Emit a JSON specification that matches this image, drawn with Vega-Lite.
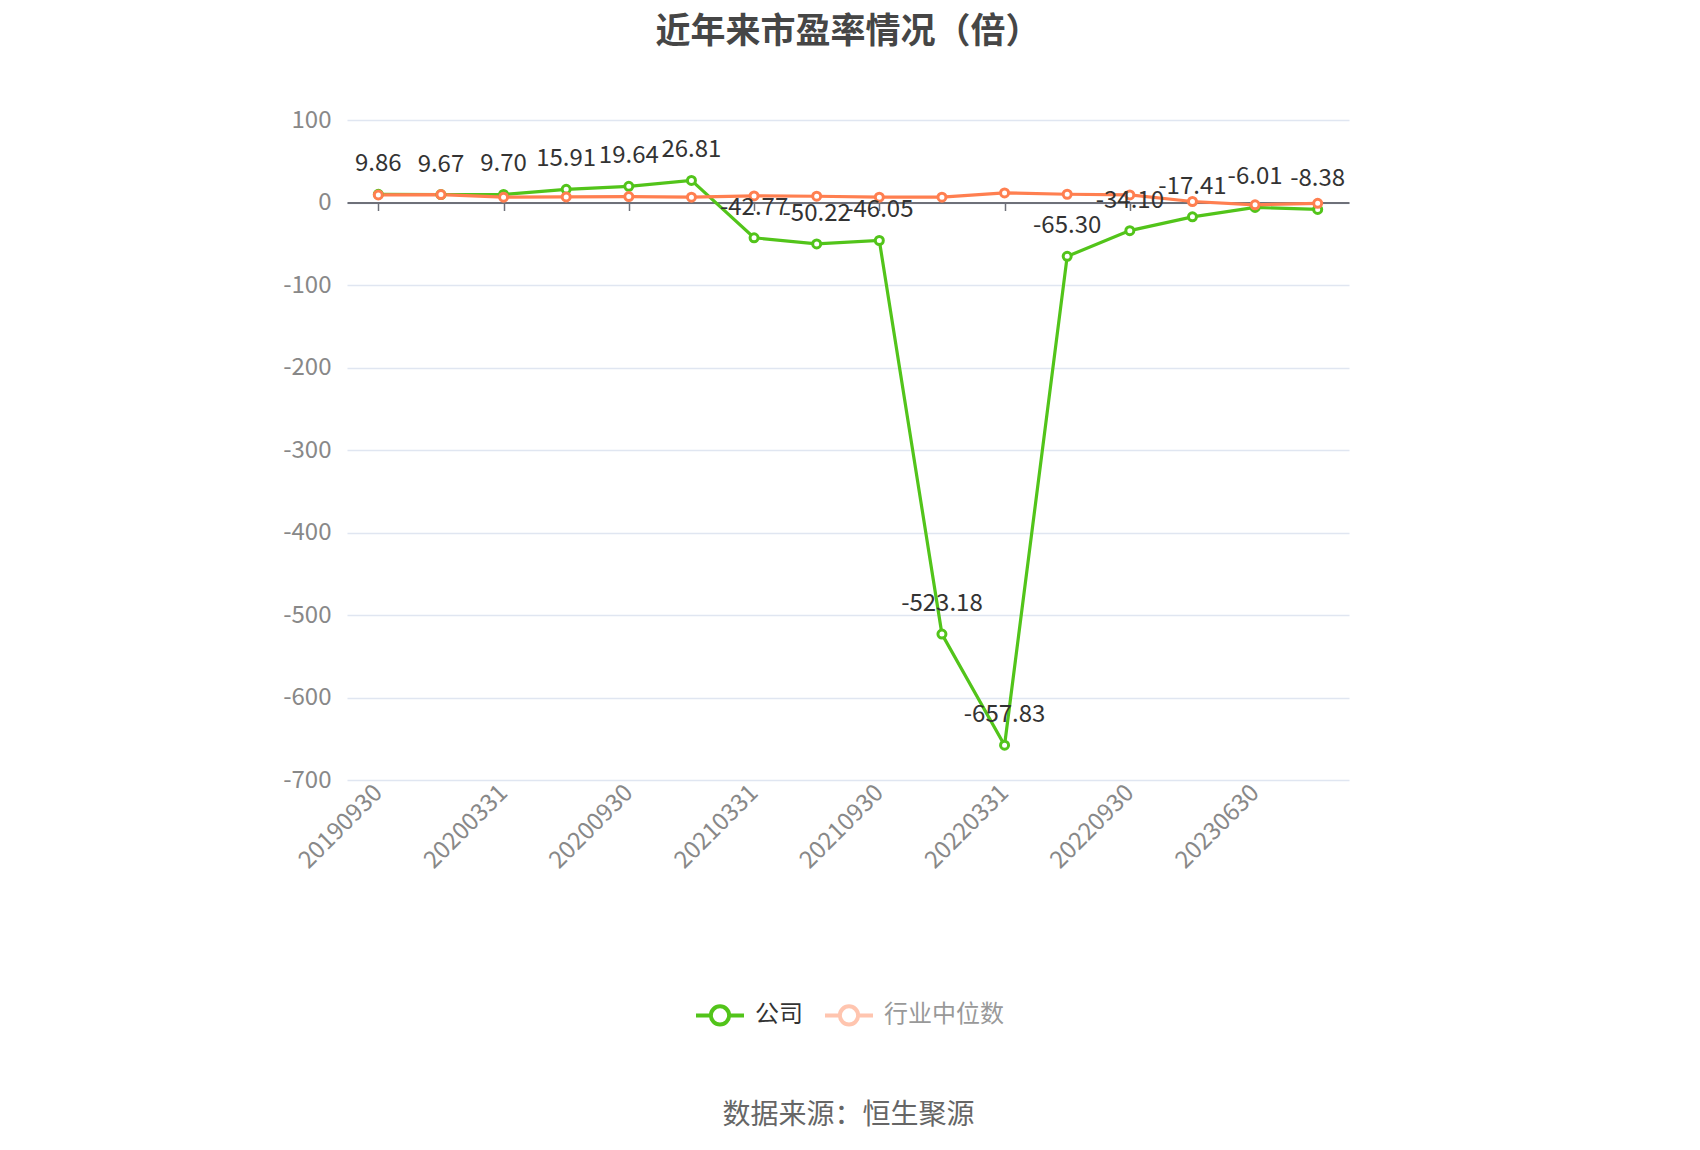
{
  "$schema": "https://vega.github.io/schema/vega-lite/v6.json",
  "width": 1002,
  "height": 660,
  "autosize": "none",
  "padding": {"left": 347, "top": 120, "right": 351, "bottom": 370},
  "background": "white",
  "config": {"font": "Noto Sans CJK SC", "view": {"stroke": null}},
  "title": {
    "text": "近年来市盈率情况（倍）",
    "fontSize": 35,
    "fontWeight": "bold",
    "color": "#464646",
    "anchor": "middle",
    "frame": "group",
    "offset": 58
  },
  "data": {
    "values": [
      {"date": "20190930", "series": "公司", "value": 9.86, "label": "9.86"},
      {"date": "20191231", "series": "公司", "value": 9.67, "label": "9.67"},
      {"date": "20200331", "series": "公司", "value": 9.70, "label": "9.70"},
      {"date": "20200630", "series": "公司", "value": 15.91, "label": "15.91"},
      {"date": "20200930", "series": "公司", "value": 19.64, "label": "19.64"},
      {"date": "20201231", "series": "公司", "value": 26.81, "label": "26.81"},
      {"date": "20210331", "series": "公司", "value": -42.77, "label": "-42.77"},
      {"date": "20210630", "series": "公司", "value": -50.22, "label": "-50.22"},
      {"date": "20210930", "series": "公司", "value": -46.05, "label": "-46.05"},
      {"date": "20211231", "series": "公司", "value": -523.18, "label": "-523.18"},
      {"date": "20220331", "series": "公司", "value": -657.83, "label": "-657.83"},
      {"date": "20220630", "series": "公司", "value": -65.30, "label": "-65.30"},
      {"date": "20220930", "series": "公司", "value": -34.10, "label": "-34.10"},
      {"date": "20221231", "series": "公司", "value": -17.41, "label": "-17.41"},
      {"date": "20230630", "series": "公司", "value": -6.01, "label": "-6.01"},
      {"date": "20230930", "series": "公司", "value": -8.38, "label": "-8.38"},
      {"date": "20190930", "series": "行业中位数", "value": 9.2, "label": ""},
      {"date": "20191231", "series": "行业中位数", "value": 9.6, "label": ""},
      {"date": "20200331", "series": "行业中位数", "value": 6.4, "label": ""},
      {"date": "20200630", "series": "行业中位数", "value": 6.8, "label": ""},
      {"date": "20200930", "series": "行业中位数", "value": 7.2, "label": ""},
      {"date": "20201231", "series": "行业中位数", "value": 6.4, "label": ""},
      {"date": "20210331", "series": "行业中位数", "value": 8.0, "label": ""},
      {"date": "20210630", "series": "行业中位数", "value": 7.6, "label": ""},
      {"date": "20210930", "series": "行业中位数", "value": 6.4, "label": ""},
      {"date": "20211231", "series": "行业中位数", "value": 6.4, "label": ""},
      {"date": "20220331", "series": "行业中位数", "value": 11.6, "label": ""},
      {"date": "20220630", "series": "行业中位数", "value": 10.0, "label": ""},
      {"date": "20220930", "series": "行业中位数", "value": 9.2, "label": ""},
      {"date": "20221231", "series": "行业中位数", "value": 1.2, "label": ""},
      {"date": "20230630", "series": "行业中位数", "value": -2.8, "label": ""},
      {"date": "20230930", "series": "行业中位数", "value": -1.0, "label": ""}
    ]
  },
  "resolve": {"scale": {"x": "shared", "y": "shared", "color": "shared"}, "axis": {"x": "independent"}},
  "layer": [
    {
      "mark": {"type": "line", "strokeWidth": 3.2},
      "encoding": {
        "x": {
          "field": "date", "type": "ordinal",
          "scale": {"type": "point", "padding": 0.5},
          "axis": {
            "orient": "bottom",
            "values": ["20190930", "20200331", "20200930", "20210331", "20210930", "20220331", "20220930", "20230630"],
            "labelAngle": -45, "labelAlign": "right", "labelBaseline": "middle",
            "labelPadding": 9, "labelOverlap": false, "labelBound": false,
            "labelColor": "#888", "labelFontSize": 24,
            "ticks": false, "domain": false, "grid": false,
            "title": "数据来源：恒生聚源",
            "titleFontSize": 28, "titleFontWeight": "normal", "titleColor": "#666",
            "titleX": 501, "titleY": 335, "titleAlign": "center", "titleBaseline": "middle"
          }
        },
        "y": {
          "field": "value", "type": "quantitative",
          "scale": {"domain": [-700, 100], "nice": false, "zero": false},
          "axis": {
            "values": [-700, -600, -500, -400, -300, -200, -100, 0, 100],
            "labelExpr": "'' + datum.value",
            "grid": true, "gridColor": "#e0e6f1", "gridWidth": 1.5,
            "domain": false, "ticks": false,
            "labelColor": "#888", "labelFontSize": 24, "labelPadding": 16,
            "title": null
          }
        },
        "color": {
          "field": "series", "type": "nominal",
          "scale": {"domain": ["公司", "行业中位数"], "range": ["#52c41a", "#ff7f50"]},
          "legend": {
            "title": null,
            "orient": "none",
            "legendX": 347,
            "legendY": 869,
            "direction": "horizontal",
            "symbolType": "M-1,0H-0.38M0.38,0H1M-0.38,0A0.38,0.38,0,1,1,0.38,0A0.38,0.38,0,1,1,-0.38,0Z",
            "symbolSize": 2304,
            "symbolStrokeWidth": 4,
            "symbolFillColor": "white",
            "labelFontSize": 24,
            "labelOffset": 9,
            "columnPadding": 14,
            "labelColor": "#333",
            "encode": {
              "symbols": {"update": {"opacity": {"signal": "datum.value === '行业中位数' ? 0.45 : 1"}}},
              "labels": {"update": {"fill": {"signal": "datum.value === '行业中位数' ? '#999' : '#333'"}}}
            }
          }
        }
      }
    },
    {
      "mark": {"type": "point", "filled": false, "fill": "white", "strokeWidth": 3, "size": 64, "opacity": 1},
      "encoding": {
        "x": {"field": "date", "type": "ordinal", "axis": null},
        "y": {"field": "value", "type": "quantitative"},
        "color": {"field": "series", "type": "nominal", "legend": null}
      }
    },
    {
      "transform": [{"filter": "datum.series === '公司'"}],
      "mark": {"type": "text", "fontSize": 24, "color": "#333", "dy": -23, "baseline": "alphabetic", "align": "center"},
      "encoding": {
        "x": {
          "field": "date", "type": "ordinal",
          "axis": {
            "orient": "bottom",
            "offset": -577.5,
            "values": ["20190930", "20200331", "20200930", "20210331", "20210930", "20220331", "20220930", "20230630"],
            "labels": false, "grid": false, "title": null,
            "domain": true, "domainColor": "#6e7079", "domainWidth": 2,
            "ticks": true, "tickColor": "#6e7079", "tickSize": 8, "tickWidth": 1.5
          }
        },
        "y": {"field": "value", "type": "quantitative"},
        "text": {"field": "label"}
      }
    }
  ]
}
